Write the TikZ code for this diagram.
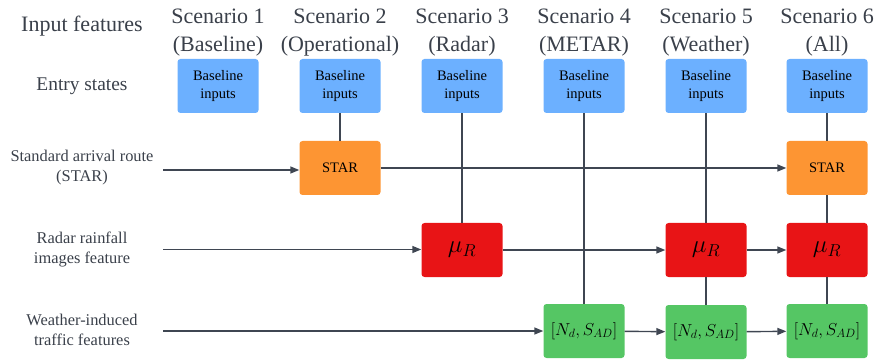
\documentclass[tikz,border=0pt]{standalone}
\usepackage{fontspec}
\setmainfont{Liberation Serif}
\usetikzlibrary{arrows.meta}
\definecolor{edgec}{HTML}{3F4652}
\definecolor{labc}{HTML}{3A404A}
\definecolor{bluec}{HTML}{6CB0FF}
\definecolor{orangec}{HTML}{FD9533}
\definecolor{redc}{HTML}{E81416}
\definecolor{greenc}{HTML}{55C664}
\tikzset{
  box/.style={rectangle, rounded corners=3pt, minimum width=81pt, minimum height=54pt, inner sep=0pt, text=black, align=center},
  basebox/.style={box, fill=bluec, font=\fontsize{14.5}{18}\selectfont},
  starbox/.style={box, fill=orangec, font=\fontsize{14.5}{18}\selectfont},
  mubox/.style={box, fill=redc, font=\fontsize{23}{26}\selectfont},
  gbox/.style={box, fill=greenc, font=\fontsize{16.5}{20}\selectfont},
  head/.style={text=labc, align=center, font=\fontsize{22}{28}\selectfont},
  rowlab/.style={text=labc, align=center, font=\fontsize{16.4}{20}\selectfont},
  conn/.style={draw=edgec, line width=1.4pt},
  arr/.style={conn, -{Triangle[length=9pt,width=7pt]}},
}
\begin{document}
\begin{tikzpicture}[x=1pt,y=-1pt]
\useasboundingbox (0,0) rectangle (877,363);
% headers
\node[head] (lin) at (82,26) {Input features};
\node[head] (s1) at (218,33) {Scenario 1\\(Baseline)};
\node[head] (s2) at (340,33) {Scenario 2\\(Operational)};
\node[head] (s3) at (462,33) {Scenario 3\\(Radar)};
\node[head] (s4) at (584,33) {Scenario 4\\(METAR)};
\node[head] (s5) at (706,33) {Scenario 5\\(Weather)};
\node[head] (s6) at (827,33) {Scenario 6\\(All)};
% row labels
\node[text=labc, font=\fontsize{19.4}{24}\selectfont] (lentry) at (82,86) {Entry states};
\node[rowlab] (lstar) at (82,168) {Standard arrival route\\(STAR)};
\node[rowlab] (lradar) at (82,249) {Radar rainfall\\images feature};
\node[rowlab] (lweather) at (82,330) {Weather-induced\\traffic features};
% baseline boxes
\node[basebox] (b1) at (218,86) {Baseline\\inputs};
\node[basebox] (b2) at (340,86) {Baseline\\inputs};
\node[basebox] (b3) at (462,86) {Baseline\\inputs};
\node[basebox] (b4) at (584,86) {Baseline\\inputs};
\node[basebox] (b5) at (706,86) {Baseline\\inputs};
\node[basebox] (b6) at (827,86) {Baseline\\inputs};
% STAR
\node[starbox] (star2) at (340,168) {STAR};
\node[starbox] (star6) at (827,168) {STAR};
% mu
\node[mubox] (mu3) at (462,250) {$\mu_R$};
\node[mubox] (mu5) at (706,250) {$\mu_R$};
\node[mubox] (mu6) at (827,250) {$\mu_R$};
% green
\node[gbox] (g4) at (584,331) {$[N_d, S_{AD}]$};
\node[gbox] (g5) at (706,332) {$[N_d, S_{AD}]$};
\node[gbox] (g6) at (827,331) {$[N_d, S_{AD}]$};
% left start points
\coordinate (cstar) at (163,170);
\coordinate (cradar) at (163,249.5);
\coordinate (cweather) at (163,331);
% vertical connectors
\draw[conn] (b2) -- (star2);
\draw[conn] (b3) -- (mu3);
\draw[conn] (b4) -- (g4);
\draw[conn] (b5) -- (mu5);
\draw[conn] (mu5) -- (g5);
\draw[conn] (b6) -- (star6);
\draw[conn] (star6) -- (mu6);
\draw[conn] (mu6) -- (g6);
% horizontal arrows
\draw[arr] (cstar) -- (cstar -| star2.west);
\draw[arr] (star2) -- (star6);
\draw[arr] (cradar) -- (cradar -| mu3.west);
\draw[arr] (mu3) -- (mu5);
\draw[arr] (mu5) -- (mu6);
\draw[arr] (cweather) -- (cweather -| g4.west);
\draw[arr] (g4) -- (g5);
\draw[arr] (g5) -- (g6);
\end{tikzpicture}
\end{document}
